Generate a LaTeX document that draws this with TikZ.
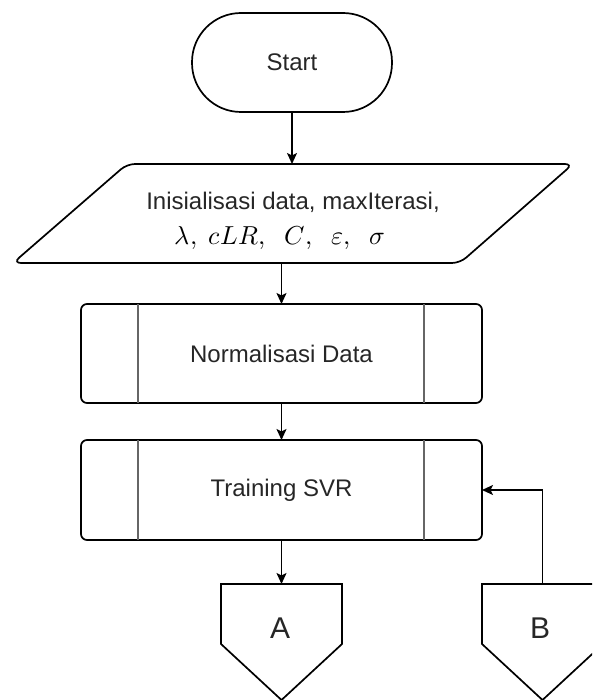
\documentclass[tikz,border=0pt]{standalone}
\usepackage{fontspec}
\usepackage{unicode-math}
\setmainfont{Liberation Sans}
\setmathfont{Latin Modern Math}
\usetikzlibrary{arrows.meta}

\begin{document}
\begin{tikzpicture}[x=1pt,y=-1pt,
  line width=1.7pt,
  every node/.style={inner sep=0pt, outer sep=0pt, text=black!85},
  lbl/.style={font=\fontsize{24}{28}\selectfont},
  term/.style={draw, lbl, rounded corners=49pt, minimum width=200pt, minimum height=99pt},
  proc/.style={draw, lbl, rounded corners=6pt, minimum width=401pt, minimum height=99pt},
  subline/.style={draw=black!60, line width=1.9pt},
  conn/.style={font=\fontsize{30}{34}\selectfont},
  arr/.style={-{Stealth[length=11pt,width=10pt,inset=2.5pt]}},
]
\useasboundingbox (0,0) rectangle (592,700);
\clip (0,0) rectangle (592,700);

% Start terminator
\node[term] (start) at (292,62.5) {\raisebox{-4pt}{Start}};

% input parallelogram
\draw[rounded corners=8pt] (127,164) -- (573,164) -- (460,263) -- (13,263) -- cycle;
\coordinate (inTop) at (292,164);
\coordinate (inBot) at (281.5,263);
\node[lbl, anchor=base] (inp1) at (293,210) {Inisialisasi data, maxIterasi,};
\node[anchor=base, font=\fontsize{26}{30}\selectfont, text=black] (inp2) at (280,244)
  {$\lambda,\ cLR,\ \ C,\ \ \varepsilon,\ \ \sigma$};

% predefined processes
\node[proc] (norm) at (281.5,353.5) {Normalisasi Data};
\draw[subline] ([xshift=57pt]norm.north west) -- ([xshift=57pt]norm.south west);
\draw[subline] ([xshift=-58pt]norm.north east) -- ([xshift=-58pt]norm.south east);

\node[proc, minimum height=100pt] (train) at (281.5,490) {Training SVR};
\draw[subline] ([xshift=57pt]train.north west) -- ([xshift=57pt]train.south west);
\draw[subline] ([xshift=-58pt]train.north east) -- ([xshift=-58pt]train.south east);

% off-page connectors
\coordinate (Atop) at (281.5,584);
\draw (221,584) -- (342,584) -- (342,644) -- (281.5,700) -- (221,644) -- cycle;
\node[conn] (A) at (280,628) {A};

\coordinate (Btop) at (542.5,584);
\draw (482,584) -- (603,584) -- (603,644) -- (542.5,700) -- (482,644) -- cycle;
\node[conn] (B) at (540,628) {B};

% flow
\draw[arr] (start.south) -- (inTop);
\draw[arr] (inBot) -- (norm.north);
\draw[arr] (norm.south) -- (train.north);
\draw[arr] (train.south) -- (Atop);
\draw[arr] (Btop) |- (train.east);
\end{tikzpicture}
\end{document}
